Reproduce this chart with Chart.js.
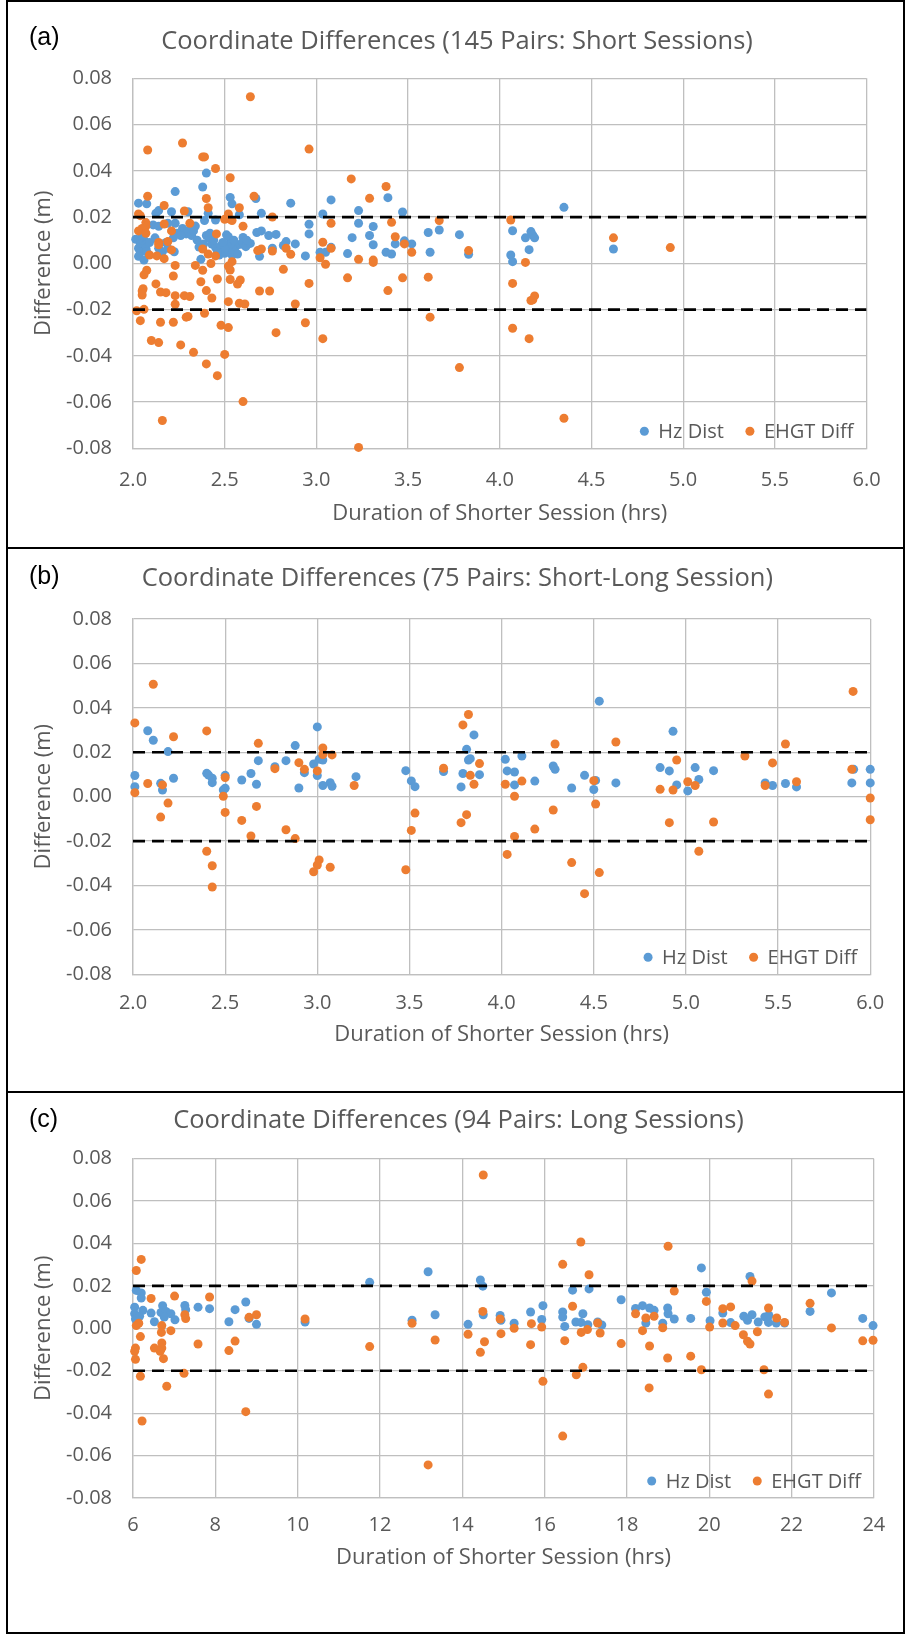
<!DOCTYPE html>
<html>
<head>
<meta charset="utf-8">
<script src="https://cdn.jsdelivr.net/npm/chart.js@4.4.0/dist/chart.umd.min.js"></script>
<style>
  html, body { margin: 0; padding: 0; background: #fff; }
  body { width: 905px; height: 1634px; position: relative; overflow: hidden; }
  .panel { position: absolute; left: 6px; width: 899px; border: 2px solid #000; box-sizing: border-box; background: #fff; }
  .panel canvas { display: block; }
</style>
</head>
<body>
<div class="panel" style="top:0; height:549px"><canvas id="chartA" width="895" height="545"></canvas></div>
<div class="panel" style="top:547px; height:546px"><canvas id="chartB" width="895" height="542"></canvas></div>
<div class="panel" style="top:1091px; height:543px"><canvas id="chartC" width="895" height="539"></canvas></div>
<script>
// ---- data ----
const seriesNames = ['Hz Dist', 'EHGT Diff'];
const titles = [
  'Coordinate Differences (145 Pairs: Short Sessions)',
  'Coordinate Differences (75 Pairs: Short-Long Session)',
  'Coordinate Differences (94 Pairs: Long Sessions)'
];
const panelLetters = ['(a)', '(b)', '(c)'];
const xTitle = 'Duration of Shorter Session (hrs)';
const yTitle = 'Difference (m)';
const xTicksShort = [2.0, 2.5, 3.0, 3.5, 4.0, 4.5, 5.0, 5.5, 6.0];
const xTicksLong = [6, 8, 10, 12, 14, 16, 18, 20, 22, 24];
const yTicks = [-0.08, -0.06, -0.04, -0.02, 0.00, 0.02, 0.04, 0.06, 0.08];
const limits = [0.02, -0.02];

// (a) short sessions
const shortHz = [
  [2.40,0.039],[2.38,0.033],[2.23,0.031],[2.03,0.026],[2.075,0.0257],[2.53,0.0285],[2.54,0.0257],[2.67,0.028],
  [2.14,0.0228],[2.21,0.0223],[2.30,0.0223],[2.41,0.0216],[2.58,0.021],[2.70,0.0216],[2.125,0.0216],[2.45,0.0187],
  [2.39,0.0185],[2.23,0.0173],[2.11,0.0166],[2.19,0.0173],[2.34,0.0161],[2.14,0.016],[2.27,0.0151],[2.30,0.0141],
  [2.24,0.013],[2.29,0.0127],[2.32,0.012],[2.40,0.012],[2.415,0.0108],[2.51,0.0123],[2.52,0.0115],[2.60,0.0112],
  [2.675,0.0133],[2.70,0.014],[2.74,0.012],[2.78,0.0125],[2.015,0.0104],[2.06,0.0101],[2.04,0.0084],[2.07,0.008],
  [2.03,0.0065],[2.07,0.0065],[2.04,0.0048],[2.03,0.003],[2.06,0.0014],[2.075,0.005],[2.14,0.0065],[2.16,0.005],
  [2.19,0.0065],[2.225,0.005],[2.37,0.0017],[2.385,0.0083],[2.43,0.0083],[2.45,0.0069],[2.48,0.0076],[2.47,0.0036],
  [2.50,0.0043],[2.52,0.005],[2.54,0.0036],[2.545,0.0058],[2.56,0.0072],[2.585,0.0082],[2.60,0.0089],[2.615,0.0072],
  [2.64,0.0086],[2.69,0.003],[2.76,0.0065],[2.53,0.0083],[2.50,0.0065],[2.36,0.007],
  [2.05,0.012],[2.09,0.009],[2.12,0.011],[2.18,0.009],[2.22,0.011],[2.26,0.012],[2.33,0.014],[2.35,0.010],
  [2.42,0.013],[2.44,0.010],[2.46,0.005],[2.49,0.009],[2.55,0.010],[2.57,0.004],[2.62,0.010],
  [3.08,0.0274],[2.86,0.026],[3.39,0.0284],[3.23,0.0228],[3.035,0.0213],[3.47,0.0222],[2.96,0.0169],[3.23,0.0173],
  [3.31,0.0159],[2.96,0.0127],[3.195,0.0111],[3.29,0.012],[3.61,0.0133],[3.67,0.0144],[3.78,0.0124],[4.07,0.0141],
  [4.17,0.0137],[4.18,0.0122],[4.19,0.011],[4.14,0.011],[2.835,0.0094],[2.885,0.0084],[2.82,0.0077],[3.31,0.008],
  [3.43,0.0084],[3.48,0.0097],[3.52,0.0084],[3.02,0.0048],[3.05,0.0048],[3.08,0.0069],[2.94,0.0032],[3.17,0.0042],
  [3.38,0.0048],[3.41,0.004],[3.62,0.0048],[3.83,0.0039],[4.06,0.0036],[4.07,0.0007],[4.16,0.0059],[4.35,0.0242],
  [4.62,0.0062]
];
const shortEhgt = [
  [2.64,0.072],[2.27,0.052],[2.08,0.049],[2.38,0.046],[2.39,0.046],[2.45,0.041],[2.53,0.037],[2.08,0.029],
  [2.66,0.029],[2.40,0.028],[2.17,0.025],[2.58,0.024],[2.41,0.024],[2.28,0.0226],[2.03,0.0213],[2.04,0.0206],
  [2.52,0.0213],[2.76,0.020],[2.50,0.019],[2.53,0.019],[2.54,0.0185],[2.31,0.0173],[2.17,0.017],[2.07,0.0176],
  [2.07,0.016],[2.05,0.0151],[2.03,0.014],[2.60,0.016],[2.21,0.014],[2.07,0.013],[2.455,0.0127],[2.19,0.0094],
  [2.14,0.009],[2.14,0.008],[2.21,0.0058],[2.38,0.0062],[2.68,0.0055],[2.70,0.0062],[2.76,0.0053],[2.09,0.0036],
  [2.13,0.0032],[2.17,0.002],[2.41,0.004],[2.45,0.0032],[2.54,0.0007],[2.34,-0.0009],[2.23,-0.0009],[2.425,-0.0001],
  [2.52,-0.0012],[2.53,-0.0029],[2.38,-0.003],[2.075,-0.003],[2.06,-0.005],[2.22,-0.0055],[2.46,-0.0068],[2.53,-0.007],
  [2.585,-0.0072],[2.57,-0.009],[2.37,-0.008],[2.125,-0.0089],[2.055,-0.011],[2.05,-0.012],[2.40,-0.0118],[2.69,-0.012],
  [2.745,-0.012],[2.15,-0.0124],[2.18,-0.0127],[2.05,-0.0137],[2.23,-0.014],[2.28,-0.014],[2.31,-0.0144],[2.43,-0.015],
  [2.52,-0.0166],[2.58,-0.0173],[2.61,-0.0176],[2.23,-0.0177],[2.02,-0.0205],[2.06,-0.0199],[2.39,-0.0216],[2.04,-0.0248],
  [2.15,-0.0255],[2.22,-0.0255],[2.29,-0.0233],[2.30,-0.023],[2.48,-0.0268],[2.52,-0.0278],[2.78,-0.030],[2.10,-0.0334],
  [2.14,-0.0343],[2.26,-0.0353],[2.33,-0.0385],[2.50,-0.0394],[2.40,-0.0435],[2.46,-0.0486],[2.60,-0.0598],[2.16,-0.068],
  [2.96,0.0494],[3.19,0.0365],[3.38,0.0332],[3.29,0.0281],[3.08,0.0173],[3.41,0.0177],[3.67,0.0185],[4.06,0.0187],
  [3.43,0.0115],[3.035,0.0091],[3.48,0.0084],[3.08,0.0065],[2.835,0.0065],[2.86,0.0039],[3.52,0.0048],[3.83,0.0055],
  [3.02,0.0024],[3.23,0.0017],[3.31,0.0014],[3.31,0.0004],[3.05,-0.0004],[4.14,0.0004],[2.82,-0.0026],[2.96,-0.0087],
  [3.17,-0.0063],[3.47,-0.0063],[3.61,-0.006],[4.07,-0.0087],[3.39,-0.0118],[2.885,-0.0176],[4.19,-0.0141],[4.17,-0.0161],
  [4.18,-0.0158],[3.62,-0.0233],[2.94,-0.0257],[3.035,-0.0326],[4.07,-0.0281],[4.16,-0.0326],[3.78,-0.0451],[3.23,-0.0796],
  [4.35,-0.067],[4.62,0.011],[4.93,0.0068]
];

// (b) short-long sessions
const midHz = [
  [3.00,0.0314],[2.08,0.0297],[2.11,0.0254],[2.19,0.0203],[2.88,0.023],[2.68,0.0162],[2.83,0.0162],[3.03,0.0165],
  [3.01,0.0168],[2.98,0.0147],[2.77,0.0135],[3.48,0.0117],[3.685,0.0113],[2.40,0.0105],[2.41,0.0097],[2.64,0.0104],
  [2.50,0.0096],[2.93,0.0108],[2.01,0.0095],[3.00,0.0095],[3.21,0.009],[2.22,0.0083],[2.43,0.0083],[2.59,0.0075],
  [2.43,0.0063],[2.15,0.006],[3.07,0.0063],[2.67,0.0056],[3.51,0.0071],[3.03,0.005],[3.08,0.0047],[2.01,0.0045],
  [3.53,0.0045],[2.50,0.0038],[2.16,0.003],[2.90,0.0039],[2.49,0.003],
  [4.53,0.043],[4.93,0.0294],[3.85,0.0278],[3.81,0.0213],[3.82,0.0165],[3.83,0.0171],[4.02,0.0168],[4.11,0.0183],
  [4.28,0.0138],[4.29,0.0123],[4.86,0.0131],[4.91,0.0116],[5.05,0.0131],[5.15,0.0117],[5.91,0.0123],[6.00,0.0123],
  [4.03,0.0116],[4.07,0.0111],[3.79,0.0104],[3.88,0.0099],[4.45,0.0096],[4.18,0.007],[4.51,0.0073],[4.62,0.0062],
  [5.07,0.0077],[4.07,0.0053],[4.95,0.0053],[3.78,0.0044],[4.38,0.0039],[4.50,0.0032],[5.01,0.0026],[5.43,0.0062],
  [5.47,0.005],[5.54,0.0059],[5.60,0.0044],[5.90,0.0062],[6.00,0.0062]
];
const midEhgt = [
  [2.11,0.0506],[2.01,0.0332],[2.40,0.0296],[2.22,0.027],[2.68,0.024],[3.03,0.0219],[3.03,0.019],[3.08,0.0188],
  [2.90,0.0153],[2.93,0.0123],[2.77,0.0126],[3.00,0.0116],[2.50,0.0086],[2.08,0.0059],[2.16,0.0053],[2.01,0.0018],
  [3.20,0.005],[2.49,0.0002],[2.19,-0.0029],[2.67,-0.0044],[2.50,-0.0071],[2.15,-0.0092],[2.59,-0.0107],[2.83,-0.0149],
  [2.64,-0.0177],[2.88,-0.0189],[2.40,-0.0246],[2.43,-0.0311],[3.01,-0.0285],[3.00,-0.0308],[2.98,-0.0338],[3.07,-0.0318],
  [2.43,-0.0407],[3.48,-0.0329],[3.53,-0.0074],[3.51,-0.0152],[3.685,0.0128],
  [5.907,0.0474],[3.82,0.037],[3.79,0.0323],[4.29,0.0237],[4.62,0.0246],[5.54,0.0237],[5.32,0.0183],[4.95,0.0165],
  [5.47,0.0152],[3.88,0.0149],[5.90,0.0123],[3.83,0.0096],[3.85,0.0056],[4.02,0.0056],[4.11,0.007],[4.50,0.0072],
  [5.01,0.0067],[5.05,0.005],[5.43,0.005],[5.60,0.0067],[4.86,0.0033],[4.93,0.003],[4.07,0.0002],[6.00,-0.0006],
  [4.51,-0.0033],[4.28,-0.006],[3.81,-0.0081],[3.78,-0.0117],[4.91,-0.0117],[5.15,-0.0114],[6.00,-0.0104],[4.18,-0.0146],
  [4.07,-0.0179],[5.07,-0.0246],[4.03,-0.026],[4.38,-0.0297],[4.53,-0.0342],[4.45,-0.0437]
];

// (c) long sessions
const longHz = [
  [13.17,0.0267],[11.75,0.0217],[6.08,0.0179],[6.2,0.0167],[6.2,0.0143],[6.04,0.010],[6.72,0.0107],[7.26,0.0108],
  [7.58,0.010],[7.86,0.0093],[8.74,0.0124],[8.48,0.0088],[6.24,0.0085],[6.44,0.0072],[6.68,0.0075],[6.80,0.008],
  [6.92,0.0069],[7.28,0.0088],[6.04,0.0069],[6.16,0.0057],[6.06,0.0044],[6.52,0.0031],[6.76,0.0053],[7.02,0.004],
  [8.82,0.0047],[8.33,0.0031],[9.0,0.0019],[10.18,0.003],[12.78,0.0038],[13.34,0.0064],
  [19.81,0.0285],[14.44,0.0228],[20.99,0.0245],[14.50,0.0199],[16.68,0.018],[17.08,0.0186],[19.93,0.017],[22.97,0.0167],
  [17.86,0.0135],[18.21,0.0094],[18.38,0.0107],[18.55,0.0096],[18.66,0.0085],[18.99,0.0096],[19.0,0.0069],[15.96,0.0107],
  [15.66,0.0077],[16.44,0.0077],[16.44,0.0053],[16.93,0.0069],[20.33,0.0072],[22.45,0.008],[14.51,0.0064],[14.92,0.0061],
  [19.15,0.0044],[19.55,0.0047],[20.84,0.0057],[21.04,0.0064],[20.93,0.0038],[21.19,0.003],[21.35,0.0054],[21.45,0.0061],
  [21.44,0.0028],[21.63,0.0025],[21.83,0.0025],[23.73,0.0047],[23.98,0.0013],[15.93,0.0042],[14.94,0.0038],[15.26,0.0024],
  [14.14,0.0019],[16.49,0.0009],[16.76,0.003],[16.88,0.0028],[17.05,0.0017],[17.29,0.003],[17.39,0.0016],[18.46,0.0025],
  [18.87,0.0024],[20.02,0.0036],[20.52,0.0027]
];
const longEhgt = [
  [6.2,0.0325],[6.08,0.0273],[6.44,0.0141],[7.01,0.0152],[7.86,0.0148],[7.26,0.0064],[7.28,0.0046],[8.82,0.0052],
  [9.0,0.0064],[10.18,0.0044],[12.78,0.0024],[6.14,0.0024],[6.08,0.0013],[6.70,0.0013],[6.69,-0.0019],[6.92,-0.0011],
  [6.18,-0.0039],[8.48,-0.006],[7.58,-0.0074],[13.34,-0.0055],[6.70,-0.0069],[6.52,-0.0093],[6.70,-0.0093],[6.06,-0.0093],
  [6.04,-0.0108],[6.66,-0.0108],[8.33,-0.0105],[11.75,-0.0086],[6.06,-0.0146],[6.74,-0.0143],[7.24,-0.0212],[6.18,-0.0226],
  [6.82,-0.0273],[8.74,-0.0393],[6.22,-0.0437],[13.17,-0.0644],
  [14.51,0.0723],[16.88,0.0407],[19.0,0.0387],[16.44,0.0302],[17.08,0.0253],[21.04,0.0223],[19.15,0.0176],[19.93,0.0127],
  [16.68,0.0104],[22.45,0.0118],[20.33,0.0093],[20.52,0.0101],[21.44,0.0096],[14.50,0.008],[18.21,0.0069],[14.92,0.0044],
  [18.46,0.0049],[18.66,0.0057],[21.64,0.0049],[21.83,0.0028],[17.29,0.0025],[15.68,0.0022],[15.93,0.0006],[15.26,0.0],
  [18.87,0.0003],[20.01,0.0006],[20.33,0.0025],[20.63,0.0013],[22.97,0.0002],[17.04,-0.0006],[16.89,-0.0019],[17.35,-0.0022],
  [18.38,-0.0011],[21.17,-0.0016],[14.14,-0.0028],[14.94,-0.0025],[14.54,-0.0063],[16.49,-0.0058],[20.83,-0.003],[20.93,-0.0061],
  [20.99,-0.0074],[15.66,-0.0077],[17.86,-0.0072],[18.55,-0.0083],[23.73,-0.0059],[23.98,-0.0056],[14.44,-0.0113],[18.99,-0.014],
  [19.55,-0.0131],[16.93,-0.0184],[16.77,-0.0219],[19.81,-0.0195],[21.33,-0.0195],[15.96,-0.025],[18.54,-0.0281],[21.44,-0.031],
  [16.44,-0.0508]
];

// ---- styling ----
const FONT = '"Open Sans", "Noto Sans", sans-serif';
const TEXT = '#595959';
const GRID = '#bfbfbf';
const BLUE = '#5b9bd5';
const ORANGE = '#ed7d31';

// letter label + legend drawn inside the plot area (bottom right)
const panelExtras = {
  id: 'panelExtras',
  afterDraw(chart, args, opts) {
    const ctx = chart.ctx;
    const area = chart.chartArea;
    ctx.save();
    ctx.textBaseline = 'middle';
    ctx.textAlign = 'left';
    ctx.fillStyle = '#000';
    ctx.font = '25px "Liberation Sans", Arial, sans-serif';
    ctx.fillText(opts.letter, 21, opts.letterY);

    ctx.font = '20px ' + FONT;
    const items = chart.data.datasets.filter(d => !d.isLimit);
    const markGap = 14, itemGap = 26, r = 4.5;
    let total = 0;
    items.forEach((d, i) => {
      total += markGap + ctx.measureText(d.label).width + (i < items.length - 1 ? itemGap : 0);
    });
    let x = area.right - 13 - total;
    const y = area.bottom - 17;
    items.forEach(d => {
      ctx.fillStyle = d.backgroundColor;
      ctx.beginPath();
      ctx.arc(x, y, r, 0, Math.PI * 2);
      ctx.fill();
      ctx.fillStyle = TEXT;
      ctx.fillText(d.label, x + markGap, y + 1);
      x += markGap + ctx.measureText(d.label).width + itemGap;
    });
    ctx.restore();
  }
};

function makeChart(id, idx, hz, ehgt, xTicks, fmtX, p) {
  const xMin = xTicks[0], xMax = xTicks[xTicks.length - 1];
  const toPts = arr => arr.map(([x, y]) => ({ x, y }));
  const limitSets = limits.map(l => ({
    isLimit: true,
    data: [{ x: xMin, y: l }, { x: xMax, y: l }],
    showLine: true,
    borderColor: '#000',
    borderWidth: 2.7,
    borderDash: [12, 7],
    pointRadius: 0,
    order: 0
  }));
  return new Chart(document.getElementById(id), {
    type: 'scatter',
    data: {
      datasets: [
        { label: seriesNames[0], data: toPts(hz), backgroundColor: BLUE, borderWidth: 0, pointRadius: 4.5, clip: false, order: 2 },
        { label: seriesNames[1], data: toPts(ehgt), backgroundColor: ORANGE, borderWidth: 0, pointRadius: 4.5, clip: false, order: 1 },
        ...limitSets
      ]
    },
    options: {
      responsive: false,
      animation: false,
      events: [],
      layout: { padding: { top: 0, left: 25, right: p.pr, bottom: p.pb } },
      plugins: {
        legend: { display: false },
        tooltip: { enabled: false },
        title: {
          display: true,
          text: titles[idx],
          color: TEXT,
          font: { family: FONT, size: 25.5, weight: 'normal', lineHeight: 1 },
          padding: { top: p.tTop, bottom: p.tBot }
        },
        panelExtras: { letter: panelLetters[idx], letterY: p.letterY }
      },
      scales: {
        x: {
          type: 'linear',
          min: xMin,
          max: xMax,
          afterBuildTicks: s => { s.ticks = xTicks.map(v => ({ value: v })); },
          afterFit: s => { s.height = p.xAxisH; },
          grid: { color: GRID, lineWidth: 1.3, drawTicks: false },
          border: { color: GRID, width: 1.3 },
          ticks: {
            color: TEXT, padding: p.xTickPad, maxRotation: 0, autoSkip: false,
            font: { family: FONT, size: 20, lineHeight: 1 },
            callback: v => fmtX(v)
          },
          title: {
            display: true, text: xTitle, color: TEXT, padding: 0,
            font: { family: FONT, size: 22, lineHeight: 1 }
          }
        },
        y: {
          type: 'linear',
          min: yTicks[0],
          max: yTicks[yTicks.length - 1],
          afterBuildTicks: s => { s.ticks = yTicks.map(v => ({ value: v })); },
          afterFit: s => { s.width = 100; },
          grid: { color: GRID, lineWidth: 1.3, drawTicks: false },
          border: { color: GRID, width: 1.3 },
          ticks: {
            color: TEXT, padding: 21,
            font: { family: FONT, size: 20, lineHeight: 1 },
            callback: v => v.toFixed(2)
          },
          title: {
            display: true, text: yTitle, color: TEXT, padding: 0,
            font: { family: FONT, size: 22, lineHeight: 1 }
          }
        }
      }
    },
    plugins: [panelExtras]
  });
}

makeChart('chartA', 0, shortHz, shortEhgt, xTicksShort, v => v.toFixed(1),
  { pr: 22, pb: 22, tTop: 26.95, tBot: 23.85, xAxisH: 76.7, xTickPad: 22.4, letterY: 36 });
makeChart('chartB', 1, midHz, midEhgt, xTicksShort, v => v.toFixed(1),
  { pr: 21.3, pb: 45, tTop: 17.25, tBot: 27.25, xAxisH: 71.7, xTickPad: 18.7, letterY: 28.5 });
makeChart('chartC', 2, longHz, longEhgt, xTicksLong, v => String(v),
  { pr: 19, pb: 63, tTop: 14.55, tBot: 25.65, xAxisH: 71, xTickPad: 17.7, letterY: 26.7 });
</script>
</body>
</html>
